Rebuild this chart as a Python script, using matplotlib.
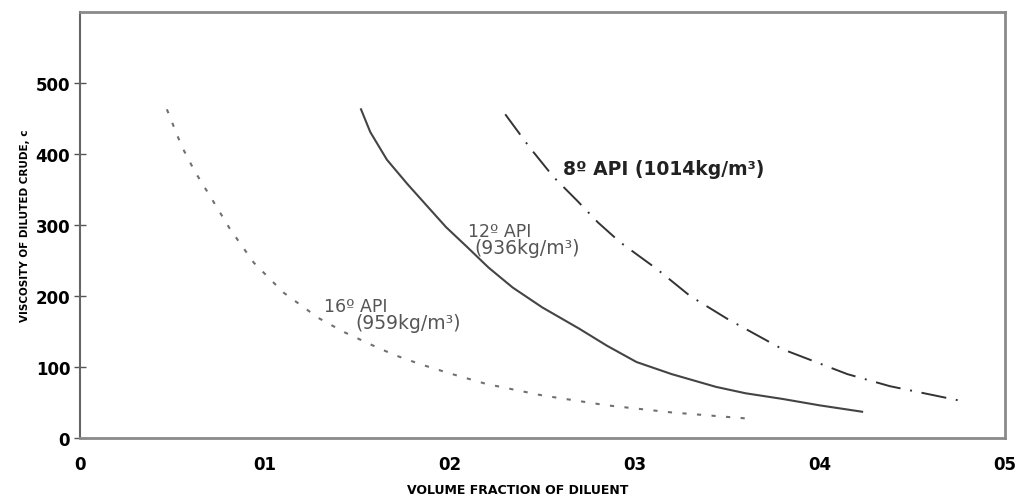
import matplotlib
matplotlib.use("Agg")
import matplotlib.pyplot as plt

# 16 deg API (dotted)
api16_x = [0.047, 0.055, 0.062, 0.071, 0.081, 0.094, 0.110, 0.129, 0.143, 0.157,
           0.170, 0.184, 0.200, 0.220, 0.250, 0.285, 0.320, 0.363]
api16_y = [463, 411, 376, 338, 295, 247, 205, 169, 149, 132,
           117, 104, 91, 76, 60, 46, 36, 27]

# 12 deg API (solid)
api12_x = [0.152, 0.157, 0.166, 0.177, 0.188, 0.198, 0.209, 0.221, 0.234, 0.250,
           0.270, 0.285, 0.301, 0.320, 0.344, 0.360, 0.380, 0.400, 0.423]
api12_y = [463, 431, 392, 358, 326, 297, 270, 240, 212, 184,
           154, 130, 107, 90, 72, 63, 55, 46, 37]

# 8 deg API (dash-dot)
api8_x = [0.230, 0.243, 0.256, 0.269, 0.280, 0.292, 0.312, 0.330, 0.350, 0.380,
          0.415, 0.438, 0.477]
api8_y = [456, 410, 368, 334, 304, 276, 238, 200, 168, 125,
          90, 73, 52]

x_ticks = [0, 0.1, 0.2, 0.3, 0.4, 0.5]
x_labels = ["0", "01", "02", "03", "04", "05"]
y_ticks = [0, 100, 200, 300, 400, 500]
y_labels = ["0", "100", "200", "300", "400", "500"]

narrow = ["Liberation Sans Narrow", "DejaVu Sans"]
wide = ["DejaVu Sans"]

fig = plt.figure(figsize=(10.25, 5.02), dpi=100)
ax = fig.add_axes([0.078, 0.1255, 0.902, 0.8485])

ax.plot(api16_x, api16_y, color="#707070", lw=1.5, linestyle=(0, (2, 5)))
ax.plot(api12_x, api12_y, color="#444444", lw=1.5, linestyle="-")
ax.plot(api8_x, api8_y, color="#333333", lw=1.4, linestyle=(0, (13, 5, 1, 5)))

ax.set_xlim(0, 0.5)
ax.set_ylim(0, 600)

ax.set_xticks(x_ticks)
ax.set_xticklabels(x_labels, family=narrow, fontsize=12, fontweight="bold")
ax.set_yticks(y_ticks)
ax.set_yticklabels(y_labels, family=narrow, fontsize=12, fontweight="bold")
ax.tick_params(axis="x", length=0, pad=12)
ax.tick_params(axis="y", direction="inout", length=8, width=1, color="#555555", pad=3)

for side in ["top", "bottom", "right"]:
    ax.spines[side].set_color("#8a8a8a")
    ax.spines[side].set_linewidth(2)
ax.spines["left"].set_color("#666666")
ax.spines["left"].set_linewidth(1.5)

ax.set_xlabel("VOLUME FRACTION OF DILUENT", family=wide, fontsize=9,
              fontweight="bold")
ax.xaxis.set_label_coords(0.474, -0.105)
ax.set_ylabel("VISCOSITY OF DILUTED CRUDE, c", family=narrow, fontsize=7.5,
              fontweight="bold", labelpad=4)

ax.text(0.261, 379, "8º API (1014kg/m³)", family=wide, fontsize=13.5,
        fontweight="bold", color="#222222", va="center")
ax.text(0.210, 292, "12º API", family=wide, fontsize=12.5, color="#555555", va="center")
ax.text(0.2135, 268, "(936kg/m³)", family=wide, fontsize=13.5, color="#555555", va="center")
ax.text(0.132, 186, "16º API", family=wide, fontsize=12.5, color="#555555", va="center")
ax.text(0.149, 162, "(959kg/m³)", family=wide, fontsize=13.5, color="#555555", va="center")

fig.savefig("out.png", dpi=100, facecolor="white")
